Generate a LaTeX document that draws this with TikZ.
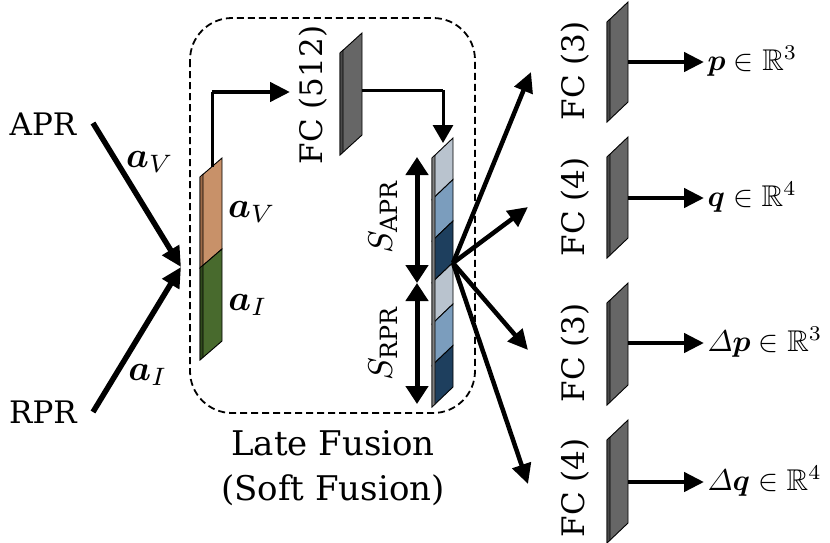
\documentclass[tikz,border=0pt]{standalone}
\usepackage{amsmath,amssymb,bm}
\usepackage{fontspec}
\setmainfont{DejaVu Serif}
\usetikzlibrary{arrows.meta}
\definecolor{orng}{HTML}{C89169}
\definecolor{orngd}{HTML}{9C6A48}
\definecolor{grn}{HTML}{486A2D}
\definecolor{grnd}{HTML}{2F4A1C}
\definecolor{plategray}{HTML}{666666}
\definecolor{plated}{HTML}{4A4A4A}
\definecolor{blight}{HTML}{B9C3CE}
\definecolor{bmed}{HTML}{7B9DBD}
\definecolor{bdark}{HTML}{1E3F5E}
\newcommand{\slab}[6]{%
  \filldraw[fill=#6, draw=black, line width=0.9pt] (#1,#2) -- ++(#3,-#5) -- ++(0,#4) -- ++(-#3,#5) -- cycle;}
\newcommand{\slabside}[4]{%
  \filldraw[fill=#4, draw=black, line width=0.6pt] (#1,#2) -- ++(3,-3) -- ++(0,#3) -- ++(-3,3) -- cycle;}
\tikzset{
  txt/.style={font=\fontsize{31}{37}\selectfont, inner sep=0pt},
  captxt/.style={font=\fontsize{34}{40}\selectfont, inner sep=0pt},
  mlab/.style={font=\normalsize, scale=3.6, inner sep=0pt},
  slbl/.style={font=\normalsize, scale=3.4, inner sep=0pt},
  olab/.style={font=\normalsize, scale=3.0, inner sep=0pt, anchor=base west},
  bigarrow/.style={line width=5.5pt, -{Triangle[length=20pt,width=19pt]}},
  medarrow/.style={line width=4.5pt, -{Triangle[length=20pt,width=19pt]}},
  thinarrow/.style={line width=3pt},
  dblarrow/.style={line width=5pt, {Triangle[length=18pt,width=22pt]}-{Triangle[length=18pt,width=22pt]}},
}
\begin{document}
\begin{tikzpicture}[x=1pt,y=-1pt]
\useasboundingbox (0,0) rectangle (830,542);
% dashed fusion box
\draw[dash pattern=on 7pt off 4pt, line width=1.8pt, rounded corners=42pt] (190,18) rectangle (475,413);
\node[captxt] (late) at (333,443) {Late Fusion};
\node[captxt] (soft) at (333,490) {(Soft Fusion)};
% inputs
\node[txt] (apr) at (43,124) {APR};
\node[txt] (rpr) at (43,412) {RPR};
\coordinate (aprs) at (93,123);
\coordinate (rprs) at (93,412);
\coordinate (join) at (181,267);
\draw[bigarrow] (aprs) -- (join);
\draw[bigarrow] (rprs) -- (join);
\node[mlab] (lav) at (150,162) {$\bm{a}_V$};
\node[mlab] (lai) at (148,375) {$\bm{a}_I$};
% concatenated bar
\slab{200}{177}{22}{91}{19}{orng}
\slabside{200}{177}{91}{orngd}
\slab{200}{268}{22}{92}{19}{grn}
\slabside{200}{268}{92}{grnd}
\node[mlab] (bav) at (252,212) {$\bm{a}_V$};
\node[mlab] (bai) at (248,305) {$\bm{a}_I$};
% to FC 512
\coordinate (bartop) at (212,167);
\coordinate (corner1) at (212,92);
\coordinate (fcin) at (290,92);
\draw[thinarrow] (bartop) -- (corner1);
\draw[medarrow] (corner1) -- (fcin);
\slab{340}{53}{22}{102}{20}{plategray}
\slabside{340}{53}{102}{plated}
\node[txt, rotate=90] (fc512) at (313,95) {FC (512)};
% to stack
\coordinate (fcout) at (362,90);
\coordinate (corner2) at (443,90);
\coordinate (stackin) at (443,143);
\draw[line width=3pt] (fcout) -- (corner2);
\draw[line width=3pt, -{Triangle[length=18pt,width=20pt]}] (corner2) -- (stackin);
% stack
\slab{432}{158}{21}{41.5}{20}{blight}
\slab{432}{199.5}{21}{41.5}{20}{bmed}
\slab{432}{241}{21}{41.5}{20}{bdark}
\slab{432}{282.5}{21}{41.5}{20}{blight}
\slab{432}{324}{21}{41.5}{20}{bmed}
\slab{432}{365.5}{21}{41.5}{20}{bdark}
\slabside{432}{158}{249}{gray}
% S arrows
\coordinate (sa1) at (417,157);
\coordinate (sa2) at (417,283);
\coordinate (sa3) at (417,404);
\draw[dblarrow] (sa1) -- (sa2);
\draw[dblarrow] (sa2) -- (sa3);
\node[slbl, rotate=90] (sapr) at (383,217) {$S_{\text{APR}}$};
\node[slbl, rotate=90] (srpr) at (383,343) {$S_{\text{RPR}}$};
% fan out
\coordinate (fan) at (453,263);
\coordinate (t1) at (531,72);
\coordinate (t2) at (528,207);
\coordinate (t3) at (528,350);
\coordinate (t4) at (528,484);
\foreach \t in {t1,t2,t3,t4} \draw[medarrow] (fan) -- (\t);
% output FC plates
\slab{607}{22}{21}{100}{20}{plategray}
\slabside{607}{22}{100}{plated}
\slab{607}{157}{21}{101}{20}{plategray}
\slabside{607}{157}{101}{plated}
\slab{607}{303}{21}{102}{20}{plategray}
\slabside{607}{303}{102}{plated}
\slab{607}{440}{21}{103}{20}{plategray}
\slabside{607}{440}{103}{plated}
\node[txt, rotate=90] (fc3a) at (575,71) {FC (3)};
\node[txt, rotate=90] (fc4a) at (575,207) {FC (4)};
\node[txt, rotate=90] (fc3b) at (575,353) {FC (3)};
\node[txt, rotate=90] (fc4b) at (575,488) {FC (4)};
% outputs
\coordinate (o1s) at (628,62);  \coordinate (o1e) at (704,62);
\coordinate (o2s) at (628,198); \coordinate (o2e) at (704,198);
\coordinate (o3s) at (628,343); \coordinate (o3e) at (704,343);
\coordinate (o4s) at (628,482); \coordinate (o4e) at (704,482);
\draw[medarrow] (o1s) -- (o1e);
\draw[medarrow] (o2s) -- (o2e);
\draw[medarrow] (o3s) -- (o3e);
\draw[medarrow] (o4s) -- (o4e);
\node[olab] (p) at (707,70) {$\bm{p}\in\mathbb{R}^3$};
\node[olab] (q) at (707,206) {$\bm{q}\in\mathbb{R}^4$};
\node[olab] (dp) at (707,351) {$\varDelta\bm{p}\in\mathbb{R}^3$};
\node[olab] (dq) at (707,490) {$\varDelta\bm{q}\in\mathbb{R}^4$};
\end{tikzpicture}
\end{document}
